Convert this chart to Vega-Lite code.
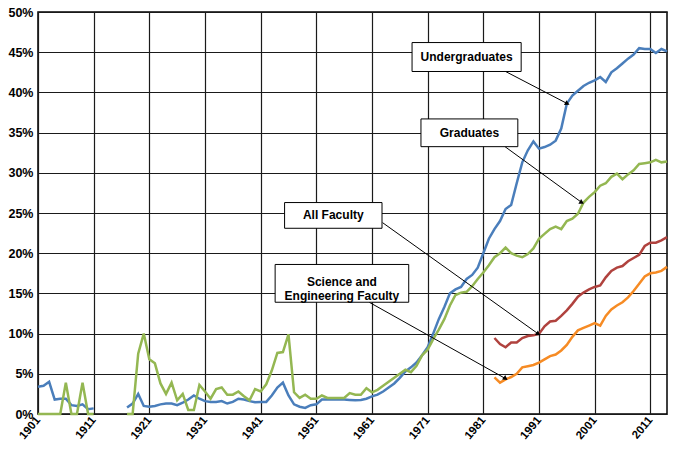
{
  "$schema": "https://vega.github.io/schema/vega-lite/v6.json",
  "autosize": {"type": "none"},
  "padding": {"left": 38, "top": 12, "right": 8, "bottom": 40},
  "width": 629,
  "height": 402,
  "background": "white",
  "config": {
    "view": {"stroke": "#000", "strokeWidth": 1.5},
    "font": "Liberation Sans",
    "axis": {"gridColor": "#1a1a1a", "gridWidth": 1.2, "gridOpacity": 1, "domain": false, "ticks": false, "labelFont": "Liberation Sans", "labelFontWeight": "bold", "labelFontSize": 11, "labelColor": "#000", "title": null}
  },
  "datasets": {
    "series": [
      {"year":1901,"u":3.4,"g":0},{"year":1902,"u":3.5,"g":0},{"year":1903,"u":4.0,"g":0},{"year":1904,"u":1.8,"g":0},{"year":1905,"u":1.9,"g":0},
      {"year":1906,"u":1.9,"g":3.9},{"year":1907,"u":1.1,"g":0},{"year":1908,"u":1.0,"g":0},{"year":1909,"u":1.2,"g":3.9},{"year":1910,"u":0.6,"g":0},
      {"year":1911,"u":0.7,"g":0},{"year":1912,"u":null,"g":null},{"year":1913,"u":null,"g":null},{"year":1914,"u":null,"g":null},{"year":1915,"u":null,"g":null},
      {"year":1916,"u":null,"g":null},{"year":1917,"u":0.8,"g":0},{"year":1918,"u":1.3,"g":0},{"year":1919,"u":2.5,"g":7.5},{"year":1920,"u":1.0,"g":10.0},
      {"year":1921,"u":0.9,"g":6.8},{"year":1922,"u":1.0,"g":6.3},{"year":1923,"u":1.2,"g":3.8},{"year":1924,"u":1.3,"g":2.5},{"year":1925,"u":1.3,"g":3.9},
      {"year":1926,"u":1.1,"g":1.7},{"year":1927,"u":1.4,"g":2.5},{"year":1928,"u":1.8,"g":0.5},{"year":1929,"u":2.3,"g":0.5},{"year":1930,"u":1.9,"g":3.6},
      {"year":1931,"u":1.6,"g":2.8},{"year":1932,"u":1.5,"g":1.9},{"year":1933,"u":1.5,"g":3.1},{"year":1934,"u":1.6,"g":3.3},{"year":1935,"u":1.3,"g":2.4},
      {"year":1936,"u":1.5,"g":2.4},{"year":1937,"u":1.9,"g":2.8},{"year":1938,"u":1.8,"g":2.2},{"year":1939,"u":1.6,"g":1.7},{"year":1940,"u":1.45,"g":3.1},
      {"year":1941,"u":1.5,"g":2.8},{"year":1942,"u":1.5,"g":3.7},{"year":1943,"u":2.3,"g":5.4},{"year":1944,"u":3.3,"g":7.6},{"year":1945,"u":3.9,"g":7.7},
      {"year":1946,"u":2.3,"g":9.9},{"year":1947,"u":1.2,"g":2.7},{"year":1948,"u":0.9,"g":2.0},{"year":1949,"u":0.75,"g":2.4},{"year":1950,"u":1.1,"g":1.9},
      {"year":1951,"u":1.2,"g":1.9},{"year":1952,"u":1.8,"g":2.3},{"year":1953,"u":1.8,"g":2.0},{"year":1954,"u":1.8,"g":2.0},{"year":1955,"u":1.8,"g":2.0},
      {"year":1956,"u":1.8,"g":2.0},{"year":1957,"u":1.75,"g":2.6},{"year":1958,"u":1.7,"g":2.4},{"year":1959,"u":1.75,"g":2.4},{"year":1960,"u":1.9,"g":3.2},
      {"year":1961,"u":2.2,"g":2.7},{"year":1962,"u":2.4,"g":3.0},{"year":1963,"u":2.8,"g":3.5},{"year":1964,"u":3.3,"g":4.0},{"year":1965,"u":3.8,"g":4.5},
      {"year":1966,"u":4.5,"g":5.0},{"year":1967,"u":5.3,"g":5.5},{"year":1968,"u":5.8,"g":5.2},{"year":1969,"u":6.4,"g":6.0},{"year":1970,"u":7.3,"g":7.3},
      {"year":1971,"u":8.3,"g":8.0},{"year":1972,"u":10.0,"g":9.3},{"year":1973,"u":11.8,"g":10.5},{"year":1974,"u":13.3,"g":11.8},{"year":1975,"u":15.0,"g":13.5},
      {"year":1976,"u":15.5,"g":14.8},{"year":1977,"u":15.8,"g":15.1},{"year":1978,"u":16.8,"g":15.2},{"year":1979,"u":17.3,"g":15.9},{"year":1980,"u":18.2,"g":16.8},
      {"year":1981,"u":20.0,"g":17.6},{"year":1982,"u":21.8,"g":18.5},{"year":1983,"u":23.0,"g":19.5,"f":9.45,"s":4.55},{"year":1984,"u":24.0,"g":20.0,"f":8.7,"s":3.9},{"year":1985,"u":25.5,"g":20.7,"f":8.3,"s":4.3},
      {"year":1986,"u":26.0,"g":20.0,"f":8.9,"s":4.6},{"year":1987,"u":28.7,"g":19.7,"f":8.9,"s":5.0},{"year":1988,"u":31.3,"g":19.5,"f":9.45,"s":5.8},{"year":1989,"u":32.8,"g":19.9,"f":9.7,"s":5.95},{"year":1990,"u":33.9,"g":20.6,"f":9.8,"s":6.1},
      {"year":1991,"u":33.0,"g":21.8,"f":9.95,"s":6.4},{"year":1992,"u":33.2,"g":22.4,"f":10.9,"s":6.8},{"year":1993,"u":33.5,"g":23.0,"f":11.5,"s":7.2},{"year":1994,"u":34.0,"g":23.3,"f":11.6,"s":7.4},{"year":1995,"u":35.5,"g":23.0,"f":12.2,"s":7.9},
      {"year":1996,"u":38.6,"g":24.0,"f":12.9,"s":8.6},{"year":1997,"u":39.6,"g":24.3,"f":13.7,"s":9.6},{"year":1998,"u":40.2,"g":24.9,"f":14.6,"s":10.4},{"year":1999,"u":40.8,"g":26.3,"f":15.1,"s":10.7},{"year":2000,"u":41.2,"g":27.0,"f":15.5,"s":11.0},
      {"year":2001,"u":41.5,"g":27.6,"f":15.8,"s":11.3},{"year":2002,"u":41.9,"g":28.4,"f":16.0,"s":11.0},{"year":2003,"u":41.3,"g":28.7,"f":17.0,"s":12.2},{"year":2004,"u":42.5,"g":29.5,"f":17.8,"s":13.0},{"year":2005,"u":43.0,"g":29.9,"f":18.2,"s":13.5},
      {"year":2006,"u":43.6,"g":29.2,"f":18.4,"s":13.9},{"year":2007,"u":44.2,"g":29.8,"f":19.0,"s":14.5},{"year":2008,"u":44.7,"g":30.3,"f":19.4,"s":15.3},{"year":2009,"u":45.5,"g":31.1,"f":19.8,"s":16.2},{"year":2010,"u":45.4,"g":31.2,"f":20.9,"s":17.1},
      {"year":2011,"u":45.4,"g":31.3,"f":21.3,"s":17.5},{"year":2012,"u":44.9,"g":31.6,"f":21.3,"s":17.6},{"year":2013,"u":45.4,"g":31.3,"f":21.6,"s":17.8},{"year":2014,"u":45.1,"g":31.4,"f":22.0,"s":18.3}
    ],
    "notes": [
      {"label":"Undergraduates","x1":1968.2,"x2":1987.8,"y1":42.6,"y2":46.2,"cx":1978.0,"cy":44.4,"ax":1985.0,"ay":42.6,"bx":1996.1,"by":38.6},
      {"label":"Graduates","x1":1969.8,"x2":1987.2,"y1":33.25,"y2":36.7,"cx":1978.5,"cy":34.97,"ax":1984.9,"ay":33.25,"bx":1998.7,"by":26.3},
      {"label":"All Faculty","x1":1945.3,"x2":1962.8,"y1":23.1,"y2":26.3,"cx":1954.05,"cy":24.7,"ax":1962.9,"ay":23.8,"bx":1990.9,"by":9.95},
      {"label":"Science and\nEngineering Faculty","x1":1943.6,"x2":1967.6,"y1":13.9,"y2":18.6,"cx":1955.6,"cy":16.4,"ax":1960.5,"ay":13.9,"bx":1985.0,"by":4.4}
    ]
  },
  "layer": [
    {
      "data": {"name": "series"},
      "transform": [{"fold": ["u", "g", "f", "s"], "as": ["series", "value"]}],
      "mark": {"type": "line", "strokeWidth": 2.5, "invalid": "break-paths-filter-domains"},
      "encoding": {
        "x": {"field": "year", "type": "quantitative", "scale": {"domain": [1901, 2014], "nice": false, "zero": false},
              "axis": {"values": [1901,1911,1921,1931,1941,1951,1961,1971,1981,1991,2001,2011], "format": "d", "labelAngle": -50, "labelAlign": "right", "labelBaseline": "middle", "labelPadding": 4, "labelFontSize": 11.5, "grid": true}},
        "y": {"field": "value", "type": "quantitative", "scale": {"domain": [0, 50], "nice": false},
              "axis": {"values": [0,5,10,15,20,25,30,35,40,45,50], "labelExpr": "datum.value + '%'", "labelPadding": 5, "labelFontSize": 12.5, "grid": true}},
        "color": {"field": "series", "type": "nominal", "scale": {"domain": ["u", "g", "f", "s"], "range": ["#4A7EBB", "#94B752", "#B0423E", "#F68B24"]}, "legend": null}
      }
    },
    {
      "data": {"name": "notes"},
      "mark": {"type": "rule", "color": "#000", "strokeWidth": 1},
      "encoding": {
        "x": {"field": "ax", "type": "quantitative"},
        "y": {"field": "ay", "type": "quantitative"},
        "x2": {"field": "bx"},
        "y2": {"field": "by"}
      }
    },
    {
      "data": {"name": "notes"},
      "mark": {"type": "point", "shape": "triangle-up", "filled": true, "color": "#000", "size": 30, "opacity": 1},
      "encoding": {
        "x": {"field": "bx", "type": "quantitative"},
        "y": {"field": "by", "type": "quantitative"},
        "angle": {"field": "label", "type": "nominal", "scale": {"domain": ["Undergraduates", "Graduates", "All Faculty", "Science and\nEngineering Faculty"], "range": [117, 126, 126, 119]}, "legend": null}
      }
    },
    {
      "data": {"name": "notes"},
      "mark": {"type": "rect", "fill": "white", "stroke": "#000", "strokeWidth": 1},
      "encoding": {
        "x": {"field": "x1", "type": "quantitative"},
        "x2": {"field": "x2"},
        "y": {"field": "y1", "type": "quantitative"},
        "y2": {"field": "y2"}
      }
    },
    {
      "data": {"name": "notes"},
      "transform": [{"calculate": "split(datum.label, '\\n')", "as": "lines"}],
      "mark": {"type": "text", "font": "Liberation Sans", "fontWeight": "bold", "fontSize": 12, "color": "#000", "align": "center", "baseline": "middle", "lineHeight": 14},
      "encoding": {
        "x": {"field": "cx", "type": "quantitative"},
        "y": {"field": "cy", "type": "quantitative"},
        "text": {"field": "lines"}
      }
    }
  ]
}
